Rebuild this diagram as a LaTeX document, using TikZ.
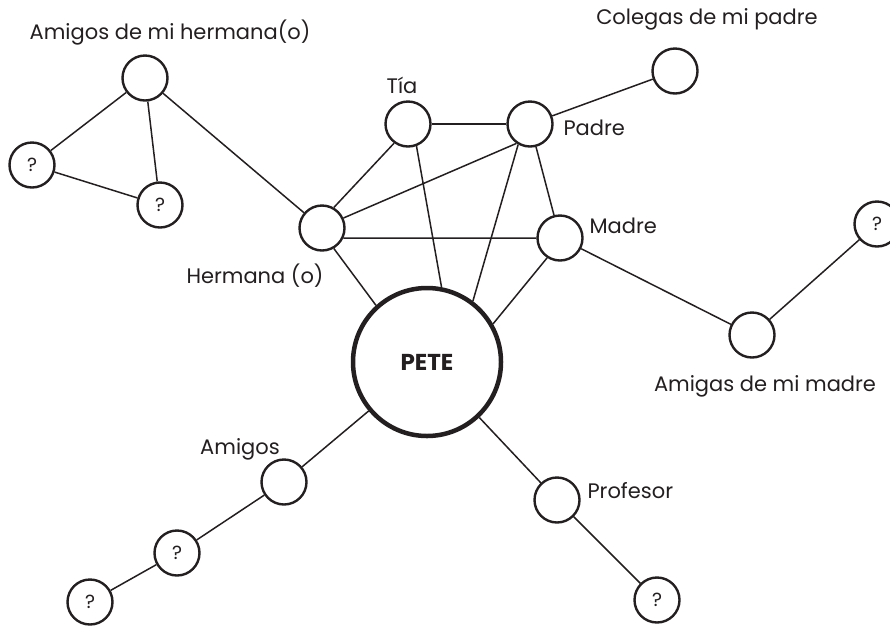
\documentclass[tikz,border=0pt]{standalone}
\usepackage{fontspec}
\setmainfont{Poppins}
\usepackage{tikz}
\definecolor{ink}{HTML}{231F20}

\begin{document}
\begin{tikzpicture}[
    x=1pt, y=-1pt,
    person/.style={draw=ink, circle, line width=2.4pt, minimum size=45pt, inner sep=0pt, fill=white, font=\fontsize{19}{22}\selectfont, text=ink},
    centre/.style={draw=ink, circle, line width=4.5pt, minimum size=148pt, fill=white, font=\fontsize{23}{26}\selectfont\bfseries, text=ink},
    lbl/.style={font=\fontsize{21}{24}\selectfont, text=ink},
    link/.style={draw=ink, line width=1.5pt}
]
\useasboundingbox (0,0) rectangle (890,625);

\node[centre] (pete) at (427, 362) {PETE};

\node[person] (hermana) at (322, 228) {};
\node[person] (tia) at (408, 124) {};
\node[person] (padre) at (530, 124) {};
\node[person] (madre) at (560, 238) {};
\node[person] (colegas) at (675, 71) {};
\node[person] (amigosh) at (145, 78) {};
\node[person] (qa) at (32, 165) {?};
\node[person] (qb) at (160, 205) {?};
\node[person] (amigas) at (752, 335) {};
\node[person] (qc) at (877, 224) {?};
\node[person] (amigos) at (284, 482) {};
\node[person] (qd) at (177, 553) {?};
\node[person] (qe) at (90, 602) {?};
\node[person] (profesor) at (557, 500) {};
\node[person] (qf) at (657, 600) {?};

\node[lbl] (lamigosh) at (170, 33) {Amigos de mi hermana(o)};
\node[lbl] (lcolegas) at (707, 19) {Colegas de mi padre};
\node[lbl] (ltia) at (402, 85) {Tía};
\node[lbl, anchor=west] (lpadre) at (560, 128) {Padre};
\node[lbl, anchor=west] (lmadre) at (586, 226) {Madre};
\node[lbl] (lhermana) at (255, 276) {Hermana (o)};
\node[lbl] (lamigas) at (765, 386) {Amigas de mi madre};
\node[lbl] (lamigos) at (240, 449) {Amigos};
\node[lbl, anchor=west] (lprofesor) at (584, 491) {Profesor};

% sister's friends
\draw[link] (amigosh) -- (qa);
\draw[link] (amigosh) -- (qb);
\draw[link] (qa) -- (qb);
\draw[link] (amigosh) -- (hermana);

% family
\draw[link] (hermana.60) -- (tia.-126);
\draw[link] (hermana.25) -- (padre.-125);
\draw[link] (hermana.-25) -- (madre.west);
\draw[link] (hermana.-60) -- (pete.132);
\draw[link] (tia) -- (padre);
\draw[link] (tia.-69) -- (pete.79);
\draw[link] (padre.-120) -- (pete.53);
\draw[link] (padre) -- (madre);
\draw[link] (padre) -- (colegas);
\draw[link] (madre.-123) -- (pete.30);
\draw[link] (madre) -- (amigas);
\draw[link] (amigas) -- (qc);

% friends and school
\draw[link] (pete) -- (amigos);
\draw[link] (amigos) -- (qd);
\draw[link] (qd) -- (qe);
\draw[link] (pete) -- (profesor);
\draw[link] (profesor) -- (qf);

\end{tikzpicture}
\end{document}
